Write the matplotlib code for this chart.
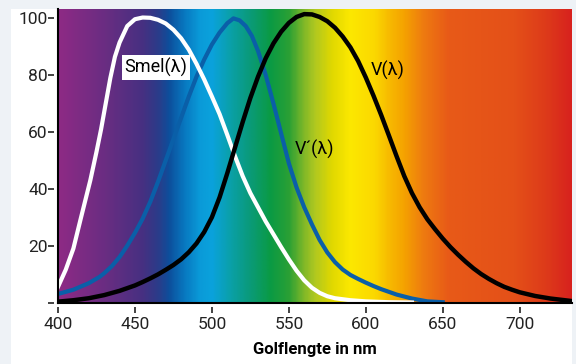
import matplotlib
matplotlib.use('Agg')
import matplotlib.pyplot as plt
import numpy as np
from matplotlib.colors import LinearSegmentedColormap
from matplotlib.patches import Rectangle
from matplotlib.path import Path

plt.rcParams['font.family'] = ['Roboto', 'DejaVu Sans']

# Golflengte (nm) en relatieve gevoeligheid (%)
smel_nm = [400, 405, 410, 415, 421, 425, 428, 430, 434, 437, 440, 445, 450, 455, 460, 465,
           470, 475, 480, 485, 490, 495, 500, 505, 510, 515, 520, 525, 530, 535, 540,
           545, 550, 555, 560, 565, 570, 575, 580, 590, 600, 615, 630]
smel_val = [5.5, 11.5, 19, 30, 43, 53, 61, 67, 79, 86.5, 91.5, 97.3, 99.7, 100.3, 100.2, 99.5,
            98.2, 96, 93, 89, 84, 78.5, 72.5, 66.3, 59, 51.5, 44.5, 38.5, 33.5, 28.5, 24,
            19.5, 15.2, 11.2, 7.8, 5.2, 3.4, 2.2, 1.5, 0.8, 0.4, 0.1, 0]

vs_nm = [400, 410, 420, 427, 430, 435, 440, 445, 450, 455, 460, 465, 470, 475, 480, 485,
         490, 495, 500, 505, 510, 514, 518, 522, 526, 530, 535, 540, 545, 550, 555, 560,
         565, 570, 575, 580, 585, 590, 595, 600, 605, 610, 620, 630, 640, 650]
vs_val = [3, 4.5, 6.8, 9, 10.3, 12.8, 16, 20, 24.5, 29.5, 35.5, 42.5, 50, 57.5, 65, 72.5,
          79.5, 85.5, 90.8, 95, 98.3, 100, 99.3, 97.3, 93.8, 88.5, 80, 70, 59.5, 49, 40.5, 33.5,
          27.5, 22, 17.6, 14.2, 11.6, 9.7, 8.3, 7, 5.8, 4.7, 2.8, 1.4, 0.4, 0.1]

v_nm = [400, 410, 420, 430, 440, 450, 455, 460, 465, 470, 475, 480, 485, 490, 495, 500,
        505, 510, 515, 520, 525, 530, 535, 540, 545, 550, 555, 560, 565, 570, 575, 580,
        585, 590, 595, 600, 605, 610, 615, 620, 625, 630, 635, 640, 645, 650, 655, 660,
        665, 670, 675, 680, 685, 690, 695, 700, 710, 720, 734]
v_val = [0.3, 0.8, 1.5, 2.6, 4.1, 6, 7.2, 8.5, 9.9, 11.5, 13.2, 15.2, 17.7, 20.8, 24.8, 30,
         37, 45.5, 54.5, 63.5, 72, 79.5, 86, 91.2, 95.3, 98.4, 100.5, 101.5, 101.4, 100.5, 99, 96.7,
         93.6, 89.8, 85, 79.2, 72.8, 66, 58.8, 51.5, 44.5, 38.5, 33.5, 29.3, 25.8, 22.5, 19.5, 16.8,
         14.3, 12, 10, 8.3, 6.8, 5.5, 4.5, 3.6, 2.3, 1.4, 0.5]

# kleurverloop van het spectrum
spec_nm = [400, 430, 455, 465, 472, 482, 492, 500, 512, 525, 538, 550, 560, 567,
           578, 590, 606, 616, 625, 638, 654, 697, 718, 734]
spec_col = ['#8e2a85', '#6a2d82', '#463081', '#2a3c8a', '#0d4f9c', '#0878c0', '#0a9ad8',
            '#0aa2dc', '#0aa0a8', '#0a9a78', '#0a9a44', '#2aa035', '#80b828', '#b0c820',
            '#e0d800', '#fce800', '#fbd800', '#f7b800', '#f5a300', '#ee7a10', '#e85a18',
            '#e45018', '#dd3a1a', '#d8221e']

xmin, xmax = 400, 734
ymin, ymax = 0, 103.3

fig = plt.figure(figsize=(5.76, 3.64), dpi=100, facecolor='#eef2f6')
# wit paneel
fig.patches.append(Rectangle((11 / 576, 0), (572 - 11) / 576, 1 - 9 / 364,
                             transform=fig.transFigure, facecolor='white', zorder=-1))
ax = fig.add_axes([58 / 576, 1 - 302.5 / 364, (572 - 58) / 576, (302.5 - 9) / 364])
ax.set_facecolor('none')

pos = [(n - xmin) / (xmax - xmin) for n in spec_nm]
cmap = LinearSegmentedColormap.from_list('spec', list(zip(pos, spec_col)), N=512)
grad = np.linspace(0, 1, 600).reshape(1, -1)
ax.imshow(grad, cmap=cmap, extent=[xmin, xmax, ymin, ymax], aspect='auto', zorder=0,
          interpolation='bilinear')

ax.plot(smel_nm, smel_val, color='white', lw=3, solid_joinstyle='round', zorder=3)
ax.plot(vs_nm, vs_val, color='#0a5fa8', lw=3, solid_joinstyle='round', zorder=2)
ax.plot(v_nm, v_val, color='black', lw=3.2, solid_joinstyle='round', zorder=4)

ax.text(463.6, 82.7, 'Smel(λ)', fontsize=13, ha='center', va='center',
        zorder=5, bbox=dict(facecolor='white', edgecolor='none', pad=1.8))
ax.text(567, 54, 'V´(λ)', fontsize=13, ha='center', va='center', zorder=5)
ax.text(614.5, 81.7, 'V(λ)', fontsize=13, ha='center', va='center', zorder=5)

ax.set_xlim(xmin, xmax)
ax.set_ylim(ymin, ymax)
ax.set_xticks([400, 450, 500, 550, 600, 650, 700])
ax.set_yticks([0, 20, 40, 60, 80, 100])
ax.set_yticklabels(['', '20', '40', '60', '80', '100'])
ax.tick_params(labelsize=12.5, colors='#222222', width=1.2)
ax.tick_params(axis='y', pad=4)
ax.tick_params(axis='x', pad=7)
ax.set_xlabel('Golflengte in nm', fontsize=12, fontweight='bold', labelpad=7)

for s in ['top', 'right']:
    ax.spines[s].set_visible(False)
for s in ['left', 'bottom']:
    ax.spines[s].set_linewidth(1.5)
    ax.spines[s].set_zorder(6)

# tickstreepjes los van de as
xmark = Path([(0, -1), (0, -0.4)], [Path.MOVETO, Path.LINETO])
ymark = Path([(-1, 0), (-0.4, 0)], [Path.MOVETO, Path.LINETO])
for t in ax.xaxis.get_major_ticks():
    t.tick1line.set_marker(xmark)
    t.tick1line.set_markersize(14.4)
for t in ax.yaxis.get_major_ticks():
    t.tick1line.set_marker(ymark)
    t.tick1line.set_markersize(14.4)

fig.savefig('out.png', dpi=100, facecolor=fig.get_facecolor())
